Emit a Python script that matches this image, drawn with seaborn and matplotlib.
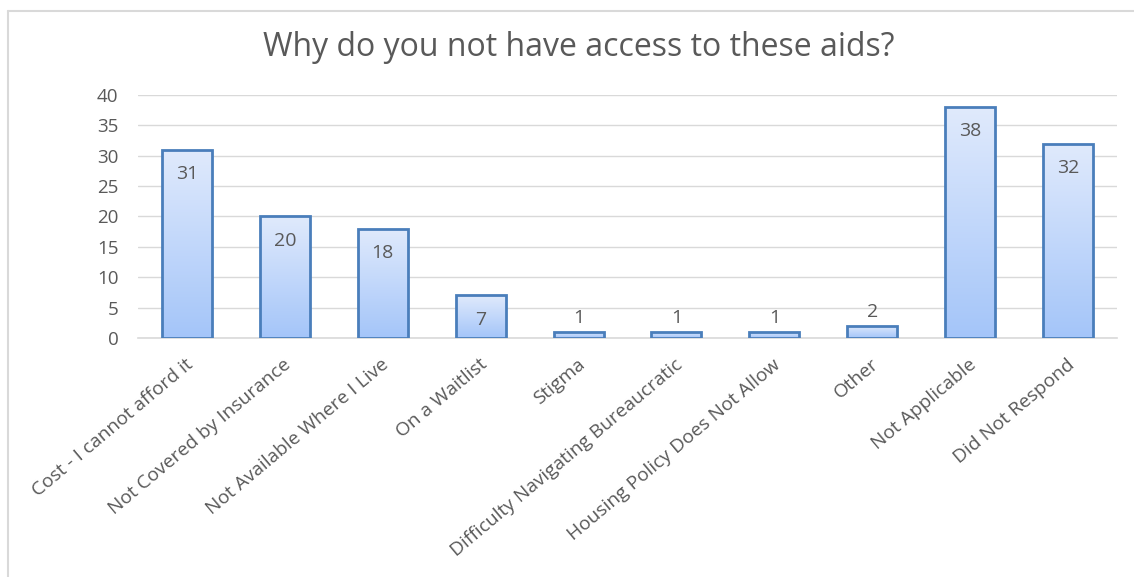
import numpy as np
import pandas as pd
import matplotlib
matplotlib.use("Agg")
import matplotlib.pyplot as plt
import matplotlib.transforms as mtransforms
from matplotlib.colors import LinearSegmentedColormap
from matplotlib.lines import Line2D
import seaborn as sns

categories = [
    "Cost - I cannot afford it",
    "Not Covered by Insurance",
    "Not Available Where I Live",
    "On a Waitlist",
    "Stigma",
    "Difficulty Navigating Bureaucratic",
    "Housing Policy Does Not Allow",
    "Other",
    "Not Applicable",
    "Did Not Respond",
]
counts = [31, 20, 18, 7, 1, 1, 1, 2, 38, 32]
y_ticks = [0, 5, 10, 15, 20, 25, 30, 35, 40]
title = "Why do you not have access to these aids?"

sns.set_theme(style="white")
plt.rcParams["font.family"] = ["Open Sans", "DejaVu Sans"]

text_grey = "#595959"
grid_grey = "#d9d9d9"
edge_blue = "#4a7ebb"

df = pd.DataFrame({"reason": categories, "count": counts})

fig = plt.figure(figsize=(11.34, 5.77), dpi=100)
ax = fig.add_axes([0.1217, 0.4142, 0.8633, 0.4212])

sns.barplot(data=df, x="reason", y="count", ax=ax, width=0.51,
            color="#c5d9f9", edgecolor=edge_blue, linewidth=2.0,
            saturation=1, zorder=3)

ax.set_ylim(0, 40)
ax.set_xlim(-0.5, len(categories) - 0.5)
ax.set_yticks(y_ticks)
ax.set_yticklabels([str(t) for t in y_ticks], fontsize=13.5, color=text_grey)
ax.set_xticks(range(len(categories)))
ax.set_xticklabels(categories, rotation=40, ha="right", va="center",
                   rotation_mode="anchor", fontsize=13.8, color=text_grey)
ax.tick_params(axis="both", length=0)
ax.tick_params(axis="x", pad=17.5)
ax.tick_params(axis="y", pad=14)
ax.set_xlabel("")
ax.set_ylabel("")

# nudge the slanted category labels slightly to the right
shift = mtransforms.ScaledTranslation(4 / 100, 0, fig.dpi_scale_trans)
for lbl in ax.get_xticklabels():
    lbl.set_transform(lbl.get_transform() + shift)

ax.grid(axis="y", color=grid_grey, linewidth=1.0, zorder=0)
ax.set_axisbelow(True)
for side in ["top", "right", "left"]:
    ax.spines[side].set_visible(False)
ax.spines["bottom"].set_color(grid_grey)
ax.spines["bottom"].set_linewidth(1.2)

# vertical gradient fill inside each bar
grad_cmap = LinearSegmentedColormap.from_list("barfill", ["#a4c5f9", "#e0eafc"])
gradient = np.linspace(0, 1, 256).reshape(-1, 1)
for patch in ax.patches:
    x0, y0 = patch.get_x(), patch.get_y()
    w, h = patch.get_width(), patch.get_height()
    im = ax.imshow(gradient, cmap=grad_cmap, aspect="auto", origin="lower",
                   extent=[x0, x0 + w, y0, y0 + h], zorder=3.5)
    im.set_clip_path(patch)
    patch.set_facecolor("none")
    patch.set_zorder(4)

# value labels: inside the top for tall bars, above for short ones
for i, v in enumerate(counts):
    if v >= 5:
        ax.annotate(str(v), (i, v), xytext=(0, -17.5), textcoords="offset points",
                    ha="center", va="center", fontsize=14, color=text_grey, zorder=5)
    else:
        ax.annotate(str(v), (i, v), xytext=(0, 10), textcoords="offset points",
                    ha="center", va="center", fontsize=14, color=text_grey, zorder=5)

fig.text(0.51, 0.918, title, ha="center", va="center", fontsize=23,
         color=text_grey)

# chart-area frame (top and left edges)
fig.add_artist(Line2D([8 / 1134, 1.0], [1 - 11 / 577, 1 - 11 / 577],
                      transform=fig.transFigure, color="#d9d9d9", linewidth=1.5))
fig.add_artist(Line2D([8 / 1134, 8 / 1134], [0, 1 - 11 / 577],
                      transform=fig.transFigure, color="#d9d9d9", linewidth=1.5))

fig.savefig("out.png", dpi=100, facecolor="white")
